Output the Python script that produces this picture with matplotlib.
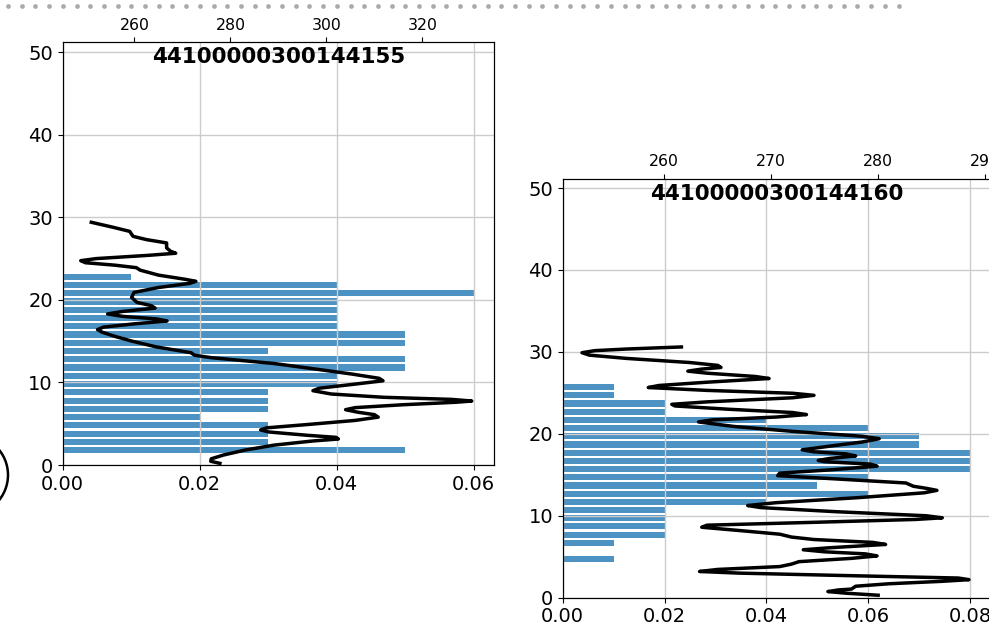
import numpy as np
import matplotlib.pyplot as plt
from matplotlib.patches import Circle
from matplotlib.lines import Line2D
from matplotlib.transforms import IdentityTransform

# station ids (panel titles)
left_id = "44100000300144155"
right_id = "44100000300144160"

# histogram bars: bin centre height, fraction
left_bar_h = np.arange(1, 23) + 0.8
left_bar_v = [0.05, 0.03, 0.03, 0.03, 0.02, 0.03, 0.03, 0.03, 0.04, 0.04, 0.05,
              0.05, 0.03, 0.05, 0.05, 0.04, 0.04, 0.04, 0.04, 0.06, 0.04, 0.01]
right_bar_h = np.arange(4, 26) + 0.7
right_bar_v = [0.01, 0.0, 0.01, 0.02, 0.02, 0.02, 0.02, 0.04, 0.06, 0.05, 0.06,
               0.08, 0.08, 0.08, 0.07, 0.07, 0.06, 0.04, 0.02, 0.02, 0.01, 0.01]

# temperature profiles (T on top axis, height on y)
left_z = [0.2, 0.45, 0.75, 1.2, 1.8, 2.4, 2.9, 3.15, 3.35, 3.6,
          4.0, 4.25, 4.5, 4.9, 5.4, 5.8, 6.1, 6.4, 6.7, 6.95,
          7.3, 7.6, 7.75, 7.95, 8.2, 8.6, 9.0, 9.3, 9.8, 10.2,
          10.5, 11.0, 11.6, 12.3, 13.0, 13.3, 13.6, 14.3, 15.0, 15.6,
          16.1, 16.4, 16.7, 17.1, 17.45, 17.7, 18.0, 18.3, 18.6, 19.0,
          19.3, 19.7, 20.3, 20.9, 21.5, 22.0, 22.25, 22.5, 23.0, 23.6,
          23.9, 24.2, 24.5, 24.75, 25.0, 25.4, 25.65, 25.9, 26.3, 26.9,
          27.3, 27.7, 28.3, 28.8, 29.4]
left_T = [277.8, 275.9, 276.0, 278.5, 283.0, 289.0, 297.0, 302.5, 302.0, 296.0,
          288.0, 286.3, 287.5, 296.0, 306.0, 310.8, 310.0, 306.5, 304.0, 306.0,
          316.0, 327.0, 330.3, 326.0, 312.0, 301.0, 297.2, 298.5, 306.0, 311.8,
          311.0, 305.5, 298.0, 289.0, 276.0, 272.5, 271.8, 264.6, 259.5, 255.8,
          253.2, 252.3, 253.5, 260.0, 266.8, 264.5, 257.6, 254.4, 257.5, 264.3,
          263.5, 260.5, 259.4, 259.9, 265.0, 271.5, 272.8, 270.5, 265.0, 261.2,
          260.4, 256.0, 249.8, 248.8, 252.0, 263.0, 268.6, 267.5, 266.7, 266.7,
          262.5, 259.7, 259.0, 255.5, 251.0]

right_z = [0.3, 0.55, 0.75, 0.95, 1.05, 1.4, 1.7, 2.0, 2.2, 2.4,
           2.7, 3.0, 3.2, 3.45, 3.8, 4.1, 4.4, 4.8, 5.1, 5.35,
           5.6, 5.85, 6.1, 6.5, 6.75, 7.1, 7.4, 7.75, 8.2, 8.6,
           8.85, 9.2, 9.55, 9.75, 10.0, 10.5, 11.0, 11.25, 11.6, 12.2,
           12.8, 13.1, 13.35, 13.6, 14.0, 14.5, 14.9, 15.2, 15.6, 16.05,
           16.3, 16.6, 16.75, 17.0, 17.3, 17.55, 17.8, 18.05, 18.5, 19.0,
           19.4, 19.7, 20.3, 20.9, 21.45, 21.7, 22.05, 22.35, 22.6, 23.0,
           23.4, 23.6, 23.9, 24.4, 24.7, 24.95, 25.3, 25.65, 25.9, 26.3,
           26.75, 27.0, 27.4, 27.65, 27.9, 28.1, 28.35, 28.7, 29.2, 29.6,
           29.9, 30.15, 30.35, 30.5, 30.6]
right_T = [280.0, 277.0, 275.3, 276.3, 277.5, 277.9, 281.0, 286.0, 288.5, 287.5,
           277.0, 267.0, 263.3, 265.0, 270.8, 271.9, 272.6, 277.5, 279.9, 278.8,
           275.0, 273.0, 275.5, 280.7, 279.5, 274.0, 271.9, 270.8, 267.0, 263.5,
           264.0, 274.0, 283.5, 286.0, 284.5, 276.0, 269.0, 267.8, 270.5, 278.0,
           284.3, 285.5, 284.5, 283.3, 282.6, 276.0, 270.6, 270.8, 275.5, 279.9,
           279.3, 275.0, 274.4, 275.5, 277.9, 277.0, 274.0, 272.9, 275.5, 278.5,
           280.1, 278.5, 272.0, 266.5, 263.2, 264.5, 270.5, 273.3, 272.0, 266.0,
           261.0, 260.7, 264.0, 272.0, 274.0, 272.0, 264.0, 258.5, 259.5, 264.0,
           269.8, 268.5, 264.0, 262.2, 263.5, 265.3, 265.0, 262.4, 256.5, 253.0,
           252.3, 253.5, 256.5, 259.5, 261.6]

fig = plt.figure(figsize=(9.89, 6.42), dpi=100)


def panel(rect, bh, bv, T, z, title, xmax, xticks, tlim, tticks, ymax):
    ax = fig.add_axes(rect)
    ax.barh(bh, bv, height=0.75, color='tab:blue', alpha=0.8)
    ax.set_xlim(0, xmax)
    ax.set_ylim(0, ymax)
    ax.set_xticks(xticks)
    ax.set_yticks(range(0, 51, 10))
    ax.xaxis.set_major_formatter('{x:.2f}')
    ax.grid(True, color='#cccccc', lw=1)
    ax.tick_params(labelsize=14)
    at = ax.twiny()
    at.plot(T, z, color='k', lw=2.5)
    at.set_xlim(*tlim)
    at.set_xticks(tticks)
    at.tick_params(labelsize=11.3)
    at.text(0.5, 0.965, title, transform=at.transAxes, ha='center', va='center',
            fontsize=15.5, fontweight='bold')
    return ax


panel([0.0632, 0.2757, 0.4366, 0.6584], left_bar_h, left_bar_v, left_T, left_z,
      left_id, 0.063, [0, 0.02, 0.04, 0.06], (245, 335), [260, 280, 300, 320], 51.2)
panel([0.5690, 0.0690, 0.4324, 0.6522], right_bar_h, right_bar_v, right_T, right_z,
      right_id, 0.084, [0, 0.02, 0.04, 0.06, 0.08], (250.5, 290.5),
      [260, 270, 280, 290], 51.1)

# notebook decorations: dotted separator and a cut-off circle on the left
dots_x = np.arange(8, 910, 13.7)
fig.add_artist(Line2D(dots_x, np.full(len(dots_x), 636), transform=IdentityTransform(),
                      ls='none', marker='o', ms=3.4, color='#aaaaaa', mec='none'))
fig.add_artist(Circle((-32, 167), 40, transform=IdentityTransform(), fill=False,
                      lw=1.8, color='k'))

fig.savefig('out.png', dpi=100)
